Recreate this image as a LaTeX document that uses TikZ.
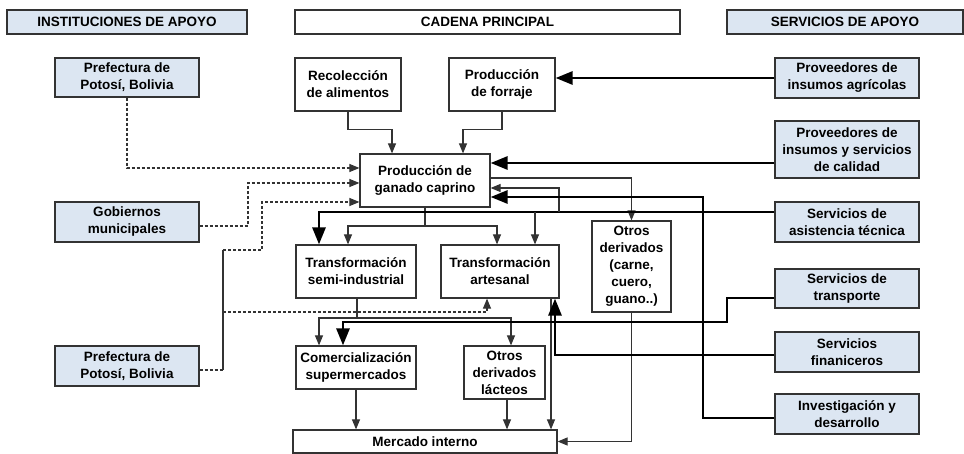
\documentclass[tikz,border=0pt]{standalone}
\usepackage{fontspec}
\setmainfont{Liberation Sans}
\usepackage{xcolor}
\definecolor{boxblue}{HTML}{DCE6F2}
\definecolor{edge}{HTML}{333333}
\usetikzlibrary{arrows.meta}

\begin{document}
\begin{tikzpicture}[x=1pt, y=-1pt,
  every node/.style={font=\fontsize{13.5}{17}\selectfont\bfseries, align=center, inner sep=0pt},
  chainbox/.style={draw=edge, line width=1.2pt, fill=white},
  supbox/.style={draw=edge, line width=1.2pt, fill=boxblue},
  wire/.style={draw=edge, line width=1.1pt},
  conn/.style={wire, -{Triangle[length=10pt,width=8pt]}},
  bigconn/.style={draw=black, line width=2.8pt, -{Triangle[length=17pt,width=13pt]}},
  dashwire/.style={draw=edge, line width=1.1pt, dash pattern=on 3pt off 2pt},
  dashconn/.style={dashwire, -{Triangle[length=10pt,width=8pt]}}]
  \useasboundingbox (0,0) rectangle (964,454);

  % column headers
  \node[supbox, minimum width=240pt, minimum height=24pt] (hinst) at (127,22) {INSTITUCIONES DE APOYO};
  \node[chainbox, minimum width=385pt, minimum height=24pt] (hcad) at (487.5,22) {CADENA PRINCIPAL};
  \node[supbox, minimum width=236pt, minimum height=24pt] (hserv) at (845,22) {SERVICIOS DE APOYO};

  % support institutions
  \node[supbox, minimum width=144pt, minimum height=39pt] (pref1) at (127,77.5) {Prefectura de\\Potosí, Bolivia};
  \node[supbox, minimum width=144pt, minimum height=40pt] (gob) at (127,222) {Gobiernos\\municipales};
  \node[supbox, minimum width=144pt, minimum height=40pt] (pref2) at (127,366) {Prefectura de\\Potosí, Bolivia};

  % main chain
  \node[chainbox, minimum width=106pt, minimum height=53pt] (recol) at (348,84.5) {Recolección\\de alimentos};
  \node[chainbox, minimum width=106pt, minimum height=53pt] (forr) at (502,84.5) {Producción\\de forraje};
  \node[chainbox, minimum width=130pt, minimum height=53pt] (prod) at (425,180.5) {Producción de\\ganado caprino};
  \node[chainbox, minimum width=120pt, minimum height=53pt] (semi) at (356,271.5) {Transformación\\semi-industrial};
  \node[chainbox, minimum width=118pt, minimum height=53pt] (artes) at (500,271.5) {Transformación\\artesanal};
  \node[chainbox, minimum width=79pt, minimum height=91pt] (otrosc) at (631.5,266.5) {Otros\\derivados\\(carne,\\cuero,\\guano..)};
  \node[chainbox, minimum width=120pt, minimum height=43pt] (comerc) at (356,367.5) {Comercialización\\supermercados};
  \node[chainbox, minimum width=81pt, minimum height=53pt] (lact) at (504.5,372.5) {Otros\\derivados\\lácteos};
  \node[chainbox, minimum width=264pt, minimum height=23pt] (merc) at (425,441.5) {Mercado interno};

  % support services
  \node[supbox, minimum width=144pt, minimum height=40pt] (provagr) at (847,78) {Proveedores de\\insumos agrícolas};
  \node[supbox, minimum width=144pt, minimum height=57pt] (provcal) at (847,149.5) {Proveedores de\\insumos y servicios\\de calidad};
  \node[supbox, minimum width=144pt, minimum height=40pt] (asist) at (847,222) {Servicios de\\asistencia técnica};
  \node[supbox, minimum width=144pt, minimum height=39pt] (transp) at (847,288.5) {Servicios de\\transporte};
  \node[supbox, minimum width=144pt, minimum height=40pt] (finan) at (847,352) {Servicios\\finaniceros};
  \node[supbox, minimum width=144pt, minimum height=40pt] (invest) at (847,414) {Investigación y\\desarrollo};

  % bend points
  \coordinate (pbus) at (425,226);
  \coordinate (sbus) at (357,318);
  \coordinate (tbus) at (535,212);
  \coordinate (qbus) at (559,212);
  \coordinate (pjoin) at (223,370);

  % chain flow
  \draw[conn] (recol.south) -- ++(0,18) -| ([xshift=-33pt]prod.north);
  \draw[conn] (forr.south) -- ++(0,18) -| ([xshift=38pt]prod.north);
  \draw[wire] (prod.south) -- (pbus);
  \draw[conn] (pbus) -| ([xshift=-8pt]semi.north);
  \draw[conn] (pbus) -| ([xshift=-3pt]artes.north);
  \draw[conn] (prod.east |- 0,178) -| (otrosc.north);
  \draw[wire] ([xshift=1pt]semi.south) -- (sbus);
  \draw[conn] (sbus) -| ([xshift=-37pt]comerc.north);
  \draw[conn] (sbus) -| ([xshift=6.5pt]lact.north);
  \draw[conn] (comerc.south) -- (comerc.south |- merc.north);
  \draw[conn] ([xshift=2.5pt]lact.south) -- ([xshift=2.5pt]lact.south |- merc.north);
  \draw[conn] ([xshift=51pt]artes.south) -- ([xshift=51pt]artes.south |- merc.north);
  \draw[conn] (otrosc.south) |- (merc.east);

  % institutions (dashed)
  \draw[dashconn] (pref1.south) |- (prod.west |- 0,168);
  \draw[dashconn] (gob.east |- 0,226) -| (248,183) -- (prod.west |- 0,183);
  \draw[dashwire] (pref2.east |- pjoin) -- (pjoin);
  \draw[wire] (pjoin) -- (223,250);
  \draw[dashconn] (223,250) -| (262,202) -- (prod.west |- 0,202);
  \draw[dashconn] (223,312) -| ([xshift=-13pt]artes.south);

  % services (thick)
  \draw[bigconn] (provagr.west) -- (forr.east |- provagr.west);
  \draw[bigconn] (provcal.west |- 0,163) -- (prod.east |- 0,163);
  \draw[bigconn] (asist.west |- 0,212) -| ([xshift=-37pt]semi.north);
  \draw[conn] (tbus) -- (artes.north -| tbus);
  \draw[conn] (qbus) |- (prod.east |- 0,188);
  \draw[bigconn] (transp.west |- 0,298) -| (727,322) -| ([xshift=-13pt]comerc.north);
  \draw[bigconn] (finan.west |- 0,355) -| ([xshift=55pt]artes.south);
  \draw[bigconn] (invest.west |- 0,418) -| (703,197) -- (prod.east |- 0,197);
\end{tikzpicture}
\end{document}
